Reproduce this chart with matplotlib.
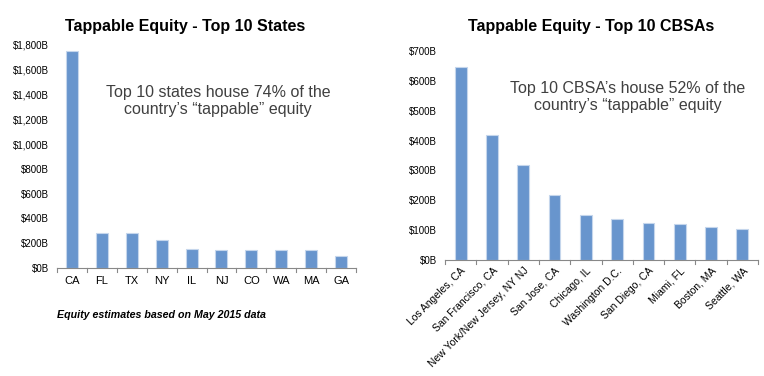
import matplotlib.pyplot as plt
from matplotlib.ticker import FuncFormatter

plt.rcParams["font.family"] = ["Liberation Sans", "DejaVu Sans"]

states = ["CA", "FL", "TX", "NY", "IL", "NJ", "CO", "WA", "MA", "GA"]
state_equity = [1750, 285, 283, 225, 150, 142, 142, 142, 142, 97]

cbsas = ["Los Angeles, CA", "San Francisco, CA", "New York/New Jersey, NY NJ",
         "San Jose, CA", "Chicago, IL", "Washington D.C.", "San Diego, CA",
         "Miami, FL", "Boston, MA", "Seattle, WA"]
cbsa_equity = [647, 419, 319, 218, 151, 137, 124, 121, 110, 104]

bar_color = "#6895cd"
edge_color = "#c5d6ec"
note_color = "#404040"

fig = plt.figure(figsize=(7.64, 3.76), dpi=100)
W, H = 764, 376


def add_axes(x0, x1, y_top, y_bot):
    return fig.add_axes([x0 / W, 1 - y_bot / H, (x1 - x0) / W, (y_bot - y_top) / H])


def style(ax, ymax, step):
    ax.set_ylim(0, ymax)
    ax.set_yticks(range(0, ymax + 1, step))
    ax.yaxis.set_major_formatter(FuncFormatter(lambda v, p: f"${int(v):,}B"))
    for s in ["top", "right", "left"]:
        ax.spines[s].set_visible(False)
    ax.spines["bottom"].set_color("#888888")
    ax.tick_params(axis="y", length=0, labelsize=7, pad=6)
    ax.tick_params(axis="x", length=0, labelsize=8)
    ax.set_xlim(-0.5, 9.5)
    # small separator ticks between categories
    for x in [i - 0.5 for i in range(11)]:
        ax.plot([x, x], [0, -ymax * 0.018], color="#888888", lw=0.8, clip_on=False)


# left chart
ax1 = add_axes(57, 356, 45, 268)
ax1.bar(range(len(states)), state_equity, width=0.4, color=bar_color,
        edgecolor=edge_color, linewidth=0.8)
style(ax1, 1800, 200)
ax1.set_xticks(range(len(states)))
ax1.set_xticklabels(states)
ax1.tick_params(axis="x", pad=6)
fig.text(185 / W, 1 - 27 / H, "Tappable Equity - Top 10 States", ha="center",
         va="center", fontsize=11.5, fontweight="bold")
fig.text(218 / W, 1 - 101 / H, "Top 10 states house 74% of the\ncountry\u2019s \u201ctappable\u201d equity",
         ha="center", va="center", fontsize=11.5, color=note_color, linespacing=1.1)
fig.text(57 / W, 1 - 315 / H, "Equity estimates based on May 2015 data", ha="left",
         va="center", fontsize=7.7, fontstyle="italic", fontweight="bold")

# right chart
ax2 = add_axes(445, 758, 51, 260)
ax2.bar(range(len(cbsas)), cbsa_equity, width=0.38, color=bar_color,
        edgecolor=edge_color, linewidth=0.8)
style(ax2, 700, 100)
ax2.set_xticks(range(len(cbsas)))
ax2.set_xticklabels(cbsas, rotation=45, ha="right", rotation_mode="anchor", fontsize=7.5)
ax2.tick_params(axis="x", pad=4)
fig.text(591 / W, 1 - 27 / H, "Tappable Equity - Top 10 CBSAs", ha="center",
         va="center", fontsize=11.5, fontweight="bold")
fig.text(628 / W, 1 - 97 / H, "Top 10 CBSA\u2019s house 52% of the\ncountry\u2019s \u201ctappable\u201d equity",
         ha="center", va="center", fontsize=11.5, color=note_color, linespacing=1.1)

fig.savefig("out.png", dpi=100)
